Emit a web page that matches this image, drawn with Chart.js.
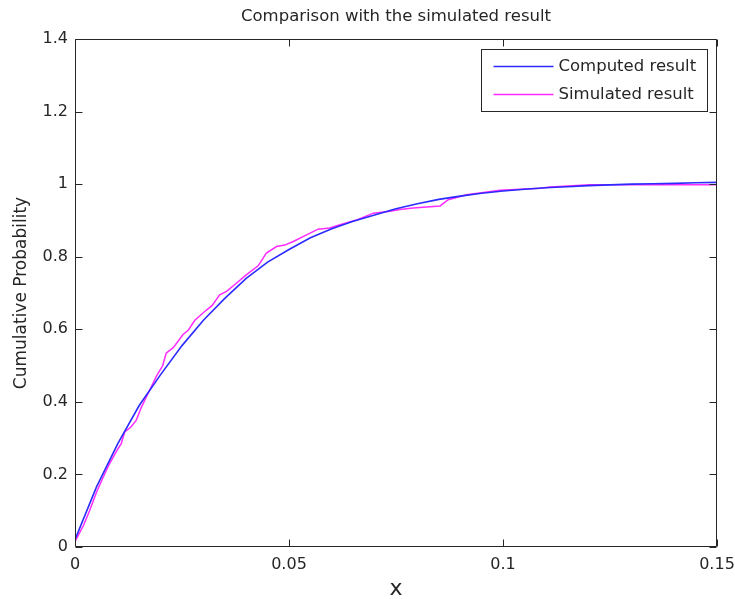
<!DOCTYPE html>
<html>
<head>
<meta charset="utf-8">
<script src="https://cdn.jsdelivr.net/npm/chart.js@4.4.1/dist/chart.umd.min.js"></script>
<style>
html,body{margin:0;padding:0;background:#fff;}
canvas{display:block;}
</style>
</head>
<body>
<canvas id="c" width="735" height="599"></canvas>
<script>
// ---- data ----
const chartTitle = 'Comparison with the simulated result';
const seriesNames = ['Computed result', 'Simulated result'];
const xAxisTitle = 'x';
const yAxisTitle = 'Cumulative Probability';

const xTicks = [0, 0.05, 0.1, 0.15];
const xTickLabels = ['0', '0.05', '0.1', '0.15'];
const yTicks = [0, 0.2, 0.4, 0.6, 0.8, 1.0, 1.2, 1.4];
const yTickLabels = ['0', '0.2', '0.4', '0.6', '0.8', '1', '1.2', '1.4'];

const computedX = [0, 0.005, 0.01, 0.015, 0.02, 0.025, 0.03, 0.035, 0.04, 0.045, 0.05,
  0.055, 0.06, 0.065, 0.07, 0.075, 0.08, 0.085, 0.09, 0.095, 0.1,
  0.105, 0.11, 0.115, 0.12, 0.125, 0.13, 0.135, 0.14, 0.145, 0.15];
const computedY = [0.02, 0.165, 0.285, 0.39, 0.475, 0.555, 0.625, 0.685, 0.74, 0.785, 0.82,
  0.852, 0.877, 0.898, 0.915, 0.932, 0.946, 0.958, 0.967, 0.975, 0.981,
  0.986, 0.99, 0.993, 0.996, 0.998, 1.0, 1.001, 1.002, 1.004, 1.005];

const simulatedX = [0, 0.002, 0.0034, 0.005, 0.0065, 0.008, 0.0096, 0.0108, 0.0116, 0.013,
  0.0143, 0.0155, 0.0167, 0.019, 0.0205, 0.0213, 0.023, 0.0252, 0.0265, 0.028,
  0.0307, 0.032, 0.0338, 0.0355, 0.0377, 0.040, 0.0428, 0.0447, 0.0471, 0.049,
  0.051, 0.0541, 0.0568, 0.0595, 0.0619, 0.066, 0.0697, 0.0736, 0.0759, 0.079,
  0.0853, 0.0872, 0.0915, 0.0993, 0.1087, 0.111, 0.1204, 0.15];
const simulatedY = [0.015, 0.06, 0.1, 0.15, 0.19, 0.228, 0.262, 0.285, 0.317, 0.33,
  0.349, 0.385, 0.414, 0.47, 0.50, 0.534, 0.55, 0.585, 0.598, 0.625,
  0.653, 0.665, 0.695, 0.705, 0.727, 0.75, 0.775, 0.81, 0.828, 0.832,
  0.842, 0.86, 0.876, 0.879, 0.888, 0.902, 0.92, 0.925, 0.93, 0.934,
  0.94, 0.957, 0.971, 0.983, 0.989, 0.992, 0.998, 0.998];

const FONT = 'DejaVu Sans';
const TEXT = '#262626';
const AXIS = '#262626';

function pts(xs, ys) { return xs.map((x, i) => ({x: x, y: ys[i]})); }

const boxPlugin = {
  id: 'matlabBox',
  afterDatasetsDraw(chart) {
    const {ctx, chartArea: a, scales: {x, y}} = chart;
    const L = Math.round(a.left) + 0.5, R = Math.round(a.right) - 0.5;
    const T = Math.round(a.top) + 0.5, B = Math.round(a.bottom) - 0.5;
    const tl = 7;
    ctx.save();
    ctx.strokeStyle = AXIS;
    ctx.lineWidth = 1;
    ctx.beginPath();
    ctx.rect(L, T, R - L, B - T);
    xTicks.forEach(v => {
      const p = Math.round(x.getPixelForValue(v)) + 0.5;
      ctx.moveTo(p, B); ctx.lineTo(p, B - tl);
      ctx.moveTo(p, T); ctx.lineTo(p, T + tl);
    });
    yTicks.forEach(v => {
      const p = Math.round(y.getPixelForValue(v)) + 0.5;
      ctx.moveTo(L, p); ctx.lineTo(L + tl, p);
      ctx.moveTo(R, p); ctx.lineTo(R - tl, p);
    });
    ctx.stroke();

    // legend inside the axes (north-east)
    const bw = 226, bh = 62;
    const bx = Math.round(a.right - 10 - bw) + 0.5, by = Math.round(a.top + 10) + 0.5;
    ctx.fillStyle = '#fff';
    ctx.fillRect(bx, by, bw, bh);
    ctx.strokeStyle = AXIS;
    ctx.strokeRect(bx, by, bw, bh);
    ctx.font = '16.5px "' + FONT + '"';
    ctx.textBaseline = 'middle';
    ctx.textAlign = 'left';
    chart.data.datasets.forEach((ds, i) => {
      const ly = by + 17 + i * 28;
      ctx.strokeStyle = ds.borderColor;
      ctx.lineWidth = 1.6;
      ctx.beginPath();
      ctx.moveTo(bx + 12, ly); ctx.lineTo(bx + 72, ly);
      ctx.stroke();
      ctx.fillStyle = TEXT;
      ctx.fillText(ds.label, bx + 77, ly);
    });
    ctx.restore();
  }
};

new Chart(document.getElementById('c'), {
  type: 'scatter',
  data: {
    datasets: [
      {label: seriesNames[0], data: pts(computedX, computedY), showLine: true,
       borderColor: '#2b2bff', backgroundColor: '#2b2bff', borderWidth: 1.6,
       pointRadius: 0, tension: 0},
      {label: seriesNames[1], data: pts(simulatedX, simulatedY), showLine: true,
       borderColor: '#ff2bff', backgroundColor: '#ff2bff', borderWidth: 1.5,
       pointRadius: 0, tension: 0}
    ]
  },
  options: {
    responsive: false,
    animation: false,
    devicePixelRatio: 1,
    layout: {padding: {left: 0, right: 18, top: 0, bottom: 0}},
    plugins: {
      legend: {display: false},
      tooltip: {enabled: false},
      title: {
        display: true, text: chartTitle, fullSize: false,
        color: TEXT, font: {family: FONT, size: 16.5, weight: 'normal', lineHeight: 1.2},
        padding: {top: 7, bottom: 12.2}
      }
    },
    scales: {
      x: {
        type: 'linear', min: 0, max: 0.15,
        afterBuildTicks: s => { s.ticks = xTicks.map(v => ({value: v})); },
        afterFit: s => { s.height = 52; s.paddingLeft = 0; s.paddingRight = 0; },
        grid: {display: false, drawTicks: false},
        border: {display: false},
        ticks: {
          color: TEXT, font: {family: FONT, size: 16}, padding: 8, maxRotation: 0,
          callback: (v, i) => xTickLabels[i]
        },
        title: {display: true, text: xAxisTitle, color: TEXT,
                font: {family: FONT, size: 22, lineHeight: 0.9}, padding: {top: 0, bottom: 0}}
      },
      y: {
        type: 'linear', min: 0, max: 1.4,
        afterBuildTicks: s => { s.ticks = yTicks.map(v => ({value: v})); },
        afterFit: s => { s.width = 75; s.paddingTop = 0; s.paddingBottom = 0; },
        grid: {display: false, drawTicks: false},
        border: {display: false},
        ticks: {
          color: TEXT, font: {family: FONT, size: 16}, padding: 7,
          callback: (v, i) => yTickLabels[i]
        },
        title: {display: true, text: yAxisTitle, color: TEXT,
                font: {family: FONT, size: 17, lineHeight: 1.2}, padding: {top: 11, bottom: 0}}
      }
    }
  },
  plugins: [boxPlugin]
});
</script>
</body>
</html>
